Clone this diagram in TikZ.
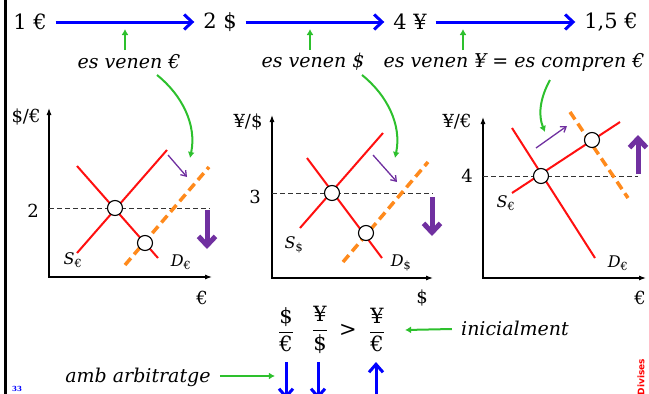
\documentclass[tikz,border=0pt]{standalone}
\usepackage{fontspec}
\setmainfont{DejaVu Serif}
\setsansfont{DejaVu Sans}
\usepackage{amsmath}
\usetikzlibrary{arrows.meta,positioning,calc}
\definecolor{ArrBlue}{HTML}{0000FF}
\definecolor{NoteGreen}{HTML}{2DC02D}
\definecolor{ShiftPurple}{HTML}{7030A0}
\definecolor{DemOrange}{HTML}{FF8A1C}
\definecolor{CurveRed}{HTML}{FF1010}

\tikzset{
  amount/.style={font=\fontsize{21}{23}\selectfont,inner sep=0pt,outer sep=9pt},
  note/.style={font=\fontsize{19}{21}\selectfont\itshape,inner sep=1pt},
  ticklab/.style={font=\fontsize{18}{20}\selectfont,inner sep=1pt},
  axislab/.style={font=\fontsize{18}{20}\selectfont,inner sep=1pt},
  curvelab/.style={font=\fontsize{16}{18}\selectfont,inner sep=1pt},
  ratio/.style={font=\fontsize{21}{23}\selectfont,inner sep=0pt},
  convert/.style={ArrBlue,line width=3pt,-{Straight Barb[length=8pt,width=15pt]}},
  hint/.style={NoteGreen,line width=2pt,-{Latex[length=6pt,width=7pt]}},
  axes/.style={line width=1.1pt,{Latex[length=7pt,width=5pt]}-{Latex[length=7pt,width=5pt]}},
  rateline/.style={black!80,line width=0.8pt,dash pattern=on 5pt off 3pt},
  curve/.style={CurveRed,line width=2pt},
  newdem/.style={DemOrange,line width=3.5pt,dash pattern=on 9pt off 5pt},
  drift/.style={ShiftPurple,line width=1.3pt,-{Straight Barb[length=5pt,width=7pt]}},
  bigmove/.style={ShiftPurple,line width=5pt,-{Straight Barb[length=9pt,width=17pt]}},
  eqdot/.style={circle,draw,fill=white,line width=1.1pt,minimum size=15pt,inner sep=0pt},
  result/.style={ArrBlue,line width=3pt,-{Straight Barb[length=8pt,width=14pt]}}
}

\begin{document}
\begin{tikzpicture}[x=1pt,y=-1pt]
  \useasboundingbox (0,0) rectangle (649,394);
  \draw[line width=3pt] (5,0) -- (5,394);

  % chain of conversions
  \node[amount] (m1) at (30,22) {1 €};
  \node[amount] (m2) at (220,22) {2 \$};
  \node[amount] (m3) at (410,22) {4 ¥};
  \node[amount] (m4) at (611,22) {1,5 €};
  \foreach \x/\y in {m1/m2,m2/m3,m3/m4}{\draw[convert] (\x) -- (\y);}

  \node[note] (s1) at (129,62) {es venen €};
  \node[note] (s2) at (313,62) {es venen \$};
  \node[note] (s3) at (514,62) {es venen ¥ = es compren €};
  \draw[hint] (125,50) -- (125,29);
  \draw[hint] (310,50) -- (310,29);
  \draw[hint] (463,50) -- (463,29);

  % market for euros in dollars
  \draw[axes] (49,108) -- (49,277) -- (212,277);
  \node[axislab] (y1) at (26,117) {\$/€};
  \node[axislab] (x1) at (202,298) {€};
  \node[ticklab] (t1) at (33,211) {2};
  \draw[rateline] (49,208) -- (210,208);
  \draw[curve] (77,166) -- (158,258);
  \draw[curve] (77,253) -- (167,150);
  \draw[newdem] (125,265) -- (209,167);
  \node[eqdot] (e1) at (115,208) {};
  \node[eqdot] (e2) at (145,243) {};
  \node[curvelab] at (73,260) {\textit{S}\textsubscript{€}};
  \node[curvelab] at (181,262) {\textit{D}\textsubscript{€}};
  \draw[drift] (168,155) -- (187,177);
  \draw[bigmove] (207,210) -- (207,249);
  \draw[hint] (157,75) .. controls (182,95) and (197,125) .. (190,158);

  % market for dollars in yen
  \draw[axes] (272,115) -- (272,278) -- (433,278);
  \node[axislab] (y2) at (248,122) {¥/\$};
  \node[axislab] (x2) at (422,298) {\$};
  \node[ticklab] (t2) at (255,197) {3};
  \draw[rateline] (272,193) -- (433,193);
  \draw[curve] (307,158) -- (382,258);
  \draw[curve] (300,228) -- (383,133);
  \draw[newdem] (343,262) -- (428,162);
  \node[eqdot] (e3) at (332,193) {};
  \node[eqdot] (e4) at (366,233) {};
  \node[curvelab] at (294,245) {\textit{S}\textsubscript{\$}};
  \node[curvelab] at (401,263) {\textit{D}\textsubscript{\$}};
  \draw[drift] (373,155) -- (397,182);
  \draw[bigmove] (432,197) -- (432,236);
  \draw[hint] (362,75) .. controls (387,95) and (402,125) .. (395,158);

  % market for euros in yen
  \draw[axes] (483,117) -- (483,278) -- (646,278);
  \node[axislab] (y3) at (457,122) {¥/€};
  \node[axislab] (x3) at (640,298) {€};
  \node[ticklab] (t3) at (467,176) {4};
  \draw[rateline] (483,176) -- (638,176);
  \draw[curve] (512,128) -- (595,258);
  \draw[curve] (512,193) -- (620,122);
  \draw[newdem] (570,112) -- (628,198);
  \node[eqdot] (e5) at (541,176) {};
  \node[eqdot] (e6) at (592,140) {};
  \node[curvelab] at (506,203) {\textit{S}\textsubscript{€}};
  \node[curvelab] at (618,263) {\textit{D}\textsubscript{€}};
  \draw[drift] (536,148) -- (567,126);
  \draw[bigmove] (638,174) -- (638,135);
  \draw[hint] (550,80) .. controls (540,98) and (538,115) .. (545,132);

  % cross rates
  \node[ratio] (f1) at (286,330) {$\dfrac{\mbox{\$}}{\mbox{€}}$};
  \node[ratio] (f2) at (320,330) {$\dfrac{\mbox{¥}}{\mbox{\$}}$};
  \node[ratio] (gt) at (348,330) {>};
  \node[ratio] (f3) at (377,330) {$\dfrac{\mbox{¥}}{\mbox{€}}$};
  \node[note] (ini) at (515,328) {inicialment};
  \draw[hint] ($(ini.west)+(-8,1)$) -- ($(f3.east)+(20,0)$);
  \node[note] (arb) at (138,377) {amb arbitratge};
  \draw[hint] ($(arb.east)+(8,-1)$) -- +(55,0);
  \draw[result] (286,362) -- (286,399);
  \draw[result] (318,362) -- (318,399);
  \draw[result] (376,399) -- (376,362);

  \node[font=\bfseries\fontsize{7}{8}\selectfont,text=ArrBlue,inner sep=0pt] (pg) at (17,389) {33};
  \node[font=\sffamily\bfseries\fontsize{9}{10}\selectfont,text=red,rotate=90,inner sep=0pt] (tag) at (641,377) {Divises};
\end{tikzpicture}
\end{document}
